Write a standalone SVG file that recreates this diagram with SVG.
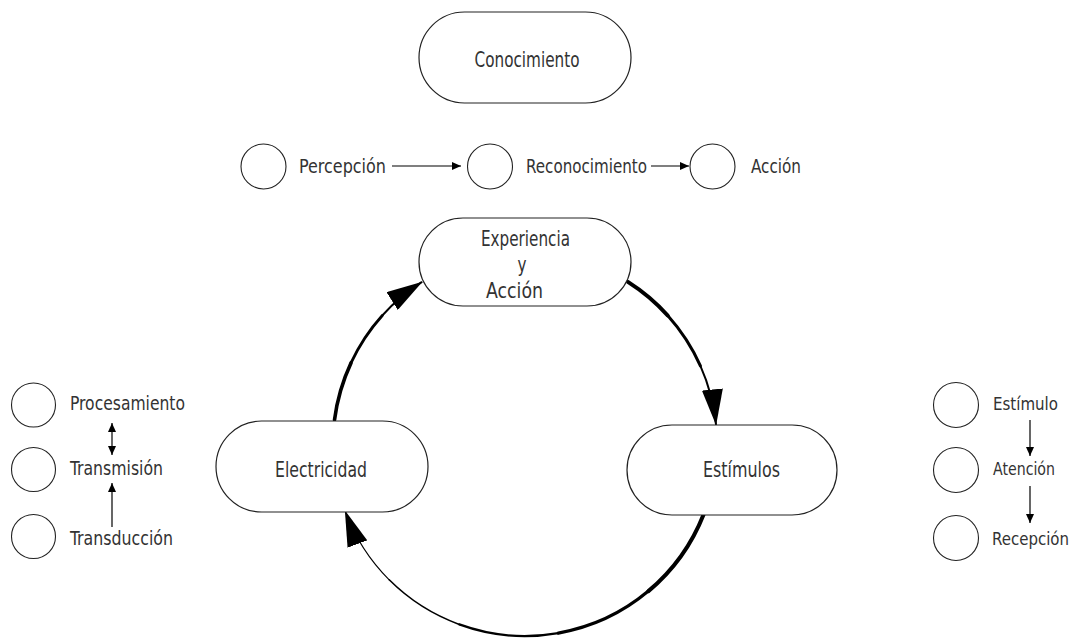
<svg xmlns="http://www.w3.org/2000/svg" width="1075" height="639" viewBox="0 0 1075 639">
<style>
.pill{fill:#fff;stroke:#222;stroke-width:1.2}
.dot{fill:#fff;stroke:#222;stroke-width:1.1}
text{font-family:"DejaVu Sans Condensed","DejaVu Sans",sans-serif;font-stretch:condensed;fill:#333;font-size:20px}
.big{font-size:21px}
.sm{font-size:18px}
.mid{text-anchor:middle}
.arc{fill:none;stroke:#000;stroke-linecap:round}
.thin{fill:none;stroke:#000;stroke-width:1.2}
</style>
<defs>
<marker id="big" markerUnits="userSpaceOnUse" viewBox="0 0 36 21" refX="35" refY="10.5" markerWidth="36" markerHeight="21" orient="auto">
<path d="M0,0 L36,10.5 L0,21 z" fill="#000"/>
</marker>
<marker id="small" markerUnits="userSpaceOnUse" viewBox="0 0 9 8" refX="9" refY="4" markerWidth="9" markerHeight="8" orient="auto-start-reverse">
<path d="M0,0 L9,4 L0,8 z" fill="#000"/>
</marker>
</defs>

<g id="connectors">
<path class="arc" stroke-width="3.6" d="M334.5,419.9 A192,192 0 0 1 351,362.9"/>
<path class="arc" stroke-width="2.8" d="M351,362.9 A192,192 0 0 1 382.3,315.5"/>
<path class="arc" stroke-width="2" d="M382.3,315.5 A192,192 0 0 1 421.6,282.2" marker-end="url(#big)"/>

<path class="arc" stroke-width="4" d="M627.9,281.9 A192,192 0 0 1 667.7,315.5"/>
<path class="arc" stroke-width="3" d="M667.7,315.5 A192,192 0 0 1 700.4,365.9"/>
<path class="arc" stroke-width="2" d="M700.4,365.9 A192,192 0 0 1 716,424.3" marker-end="url(#big)"/>

<path class="arc" stroke-width="4" d="M703.6,514.4 A192,192 0 0 1 648.4,591.1"/>
<path class="arc" stroke-width="3.2" d="M648.4,591.1 A192,192 0 0 1 558.3,633.1"/>
<path class="arc" stroke-width="2.3" d="M558.3,633.1 A192,192 0 0 1 459.3,624.4"/>
<path class="arc" stroke-width="1.6" d="M459.3,624.4 A192,192 0 0 1 389.2,579.8"/>
<path class="arc" stroke-width="1.1" d="M389.2,579.8 A192,192 0 0 1 345.2,511.2" marker-end="url(#big)"/>

<path class="thin" d="M392,166 L461,166" marker-end="url(#small)"/>
<path class="thin" d="M651,166 L689,166" marker-end="url(#small)"/>
<path class="thin" d="M112,423 L112,455" marker-start="url(#small)" marker-end="url(#small)"/>
<path class="thin" d="M112,527 L112,483" marker-end="url(#small)"/>
<path class="thin" d="M1030,420 L1030,456" marker-end="url(#small)"/>
<path class="thin" d="M1030,486 L1030,523" marker-end="url(#small)"/>
</g>

<g id="conocimiento">
<rect class="pill" x="419" y="12" width="212" height="91" rx="45.5"/>
<text class="big mid" x="527" y="67" textLength="105" lengthAdjust="spacingAndGlyphs">Conocimiento</text>
</g>

<g id="percepcion">
<circle class="dot" cx="263.5" cy="166.5" r="22.5"/>
<text x="299" y="173" textLength="87" lengthAdjust="spacingAndGlyphs">Percepción</text>
</g>
<g id="reconocimiento">
<circle class="dot" cx="490" cy="166.5" r="22.5"/>
<text x="526" y="173" textLength="121" lengthAdjust="spacingAndGlyphs">Reconocimiento</text>
</g>
<g id="accion">
<circle class="dot" cx="712.5" cy="166.5" r="22.5"/>
<text x="751" y="173" textLength="50" lengthAdjust="spacingAndGlyphs">Acción</text>
</g>

<g id="experiencia">
<rect class="pill" x="419" y="218" width="212" height="88" rx="44"/>
<text class="big" x="481" y="246" textLength="89" lengthAdjust="spacingAndGlyphs">Experiencia</text>
<text class="big mid" x="522" y="272" textLength="9" lengthAdjust="spacingAndGlyphs">y</text>
<text class="big" x="486" y="298" textLength="57" lengthAdjust="spacingAndGlyphs">Acción</text>
</g>

<g id="electricidad">
<rect class="pill" x="216" y="421" width="212" height="91" rx="45.5"/>
<text class="big" x="275" y="477" textLength="92" lengthAdjust="spacingAndGlyphs">Electricidad</text>
</g>

<g id="estimulos">
<rect class="pill" x="627" y="425" width="210" height="90" rx="45"/>
<text class="big" x="703" y="477" textLength="77" lengthAdjust="spacingAndGlyphs">Estímulos</text>
</g>

<g id="procesamiento">
<circle class="dot" cx="33.5" cy="405" r="22"/>
<text x="70" y="410" textLength="115" lengthAdjust="spacingAndGlyphs">Procesamiento</text>
</g>
<g id="transmision">
<circle class="dot" cx="33.5" cy="469.5" r="22"/>
<text x="70" y="475" textLength="93" lengthAdjust="spacingAndGlyphs">Transmisión</text>
</g>
<g id="transduccion">
<circle class="dot" cx="33.5" cy="536.5" r="22"/>
<text x="70" y="545" textLength="103" lengthAdjust="spacingAndGlyphs">Transducción</text>
</g>

<g id="estimulo">
<circle class="dot" cx="956" cy="405" r="22.5"/>
<text class="sm" x="993" y="410" textLength="65" lengthAdjust="spacingAndGlyphs">Estímulo</text>
</g>
<g id="atencion">
<circle class="dot" cx="956" cy="470" r="22.5"/>
<text class="sm" x="993" y="475" textLength="62" lengthAdjust="spacingAndGlyphs">Atención</text>
</g>
<g id="recepcion">
<circle class="dot" cx="956" cy="538" r="22.5"/>
<text class="sm" x="992" y="545" textLength="77" lengthAdjust="spacingAndGlyphs">Recepción</text>
</g>
</svg>
